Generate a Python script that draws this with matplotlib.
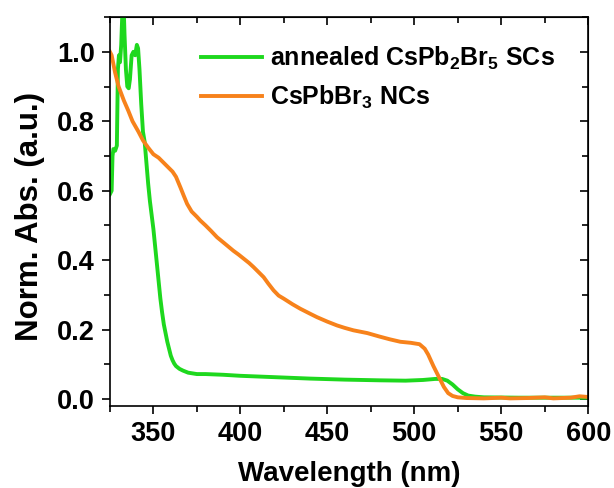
import matplotlib
matplotlib.use("Agg")
import matplotlib.pyplot as plt
from matplotlib.ticker import MultipleLocator

plt.rcParams['font.family'] = ['Liberation Sans', 'DejaVu Sans']
plt.rcParams['font.weight'] = 'bold'
plt.rcParams['mathtext.default'] = 'regular'

# annealed CsPb2Br5 SCs
green_wl = [325, 326, 326.5, 327, 328, 329, 329.6, 330.2, 330.8, 331.5, 332.2, 332.8,
            333.4, 334.2, 335, 335.8, 336.5, 337.5, 338.5, 339.5, 340.5, 341.2, 342,
            343, 344, 345, 346, 347, 348, 349, 350, 351, 352, 353, 354, 355, 356, 357,
            358, 359, 360, 361, 362, 363, 365, 367, 370, 375, 380, 390, 400, 420, 440,
            460, 480, 495, 505, 512, 516, 519, 522, 525, 528, 531, 535, 540, 560, 580, 600]
green_abs = [0.59, 0.60, 0.70, 0.72, 0.715, 0.73, 0.95, 0.99, 0.97, 1.02, 1.12, 1.15,
             1.05, 0.95, 0.90, 0.895, 0.92, 0.99, 1.00, 0.99, 1.02, 1.01, 0.95,
             0.85, 0.77, 0.74, 0.68, 0.62, 0.57, 0.53, 0.49, 0.44, 0.39, 0.34, 0.29, 0.25, 0.215, 0.19,
             0.165, 0.145, 0.125, 0.112, 0.102, 0.095, 0.087, 0.082, 0.076, 0.072, 0.072, 0.070, 0.067, 0.063, 0.059,
             0.056, 0.054, 0.053, 0.055, 0.058, 0.058, 0.053, 0.042, 0.028, 0.017, 0.010, 0.007, 0.005, 0.004, 0.004, 0.004]

# CsPbBr3 NCs
orange_wl = [325, 326, 328, 330, 333, 335.6, 338, 341.4, 344, 347, 350, 353, 356, 359, 361,
             363, 365.5, 367.5, 369.4, 372, 375, 377, 380, 383, 386.6, 390, 392.4, 396, 399,
             402, 405, 407.6, 410, 413.4, 416, 419.1, 422, 425, 430, 434.5, 440, 444, 450,
             455.6, 460, 465, 473, 480, 486, 492, 498, 503, 506, 508, 511, 513, 515, 517,
             519.5, 522, 525, 530, 540, 550, 555, 565, 575, 580, 590, 595, 600]
orange_abs = [1.00, 0.99, 0.94, 0.90, 0.86, 0.83, 0.80, 0.77, 0.745, 0.724, 0.705, 0.695, 0.68, 0.665, 0.655,
              0.64, 0.61, 0.585, 0.562, 0.54, 0.525, 0.514, 0.50, 0.485, 0.466, 0.452, 0.442, 0.427, 0.416,
              0.404, 0.392, 0.38, 0.368, 0.351, 0.333, 0.313, 0.298, 0.289, 0.273, 0.26, 0.246, 0.236, 0.223,
              0.212, 0.205, 0.198, 0.19, 0.18, 0.172, 0.165, 0.162, 0.158, 0.145, 0.128, 0.095, 0.075, 0.055, 0.035,
              0.017, 0.009, 0.005, 0.003, 0.002, 0.004, 0.002, 0.003, 0.005, 0.002, 0.004, 0.008, 0.006]

fig = plt.figure(figsize=(6.14, 4.88), dpi=100)
ax = fig.add_axes([0.179, 0.168, 0.779, 0.797])

ax.plot(green_wl, green_abs, color='#1ed81e', lw=2.8, label='annealed CsPb$_2$Br$_5$ SCs')
ax.plot(orange_wl, orange_abs, color='#f7821b', lw=2.8, label='CsPbBr$_3$ NCs')

ax.set_xlim(325, 600)
ax.set_ylim(-0.02, 1.1)
ax.xaxis.set_major_locator(MultipleLocator(50))
ax.xaxis.set_minor_locator(MultipleLocator(25))
ax.yaxis.set_major_locator(MultipleLocator(0.2))
ax.yaxis.set_minor_locator(MultipleLocator(0.1))
ax.tick_params(which='both', direction='out', width=1.2, labelsize=19.5, pad=5)
ax.tick_params(which='major', length=6)
ax.tick_params(which='minor', length=4)

# mirrored ticks on top and right, pointing in
top = ax.secondary_xaxis('top')
top.xaxis.set_major_locator(MultipleLocator(50))
top.xaxis.set_minor_locator(MultipleLocator(25))
top.tick_params(which='both', direction='in', width=1.2, labeltop=False)
top.tick_params(which='major', length=6)
top.tick_params(which='minor', length=4)
right = ax.secondary_yaxis('right')
right.yaxis.set_major_locator(MultipleLocator(0.2))
right.yaxis.set_minor_locator(MultipleLocator(0.1))
right.tick_params(which='both', direction='in', width=1.2, labelright=False)
right.tick_params(which='major', length=6)
right.tick_params(which='minor', length=4)

for s in ax.spines.values():
    s.set_linewidth(1.2)

ax.set_xlabel('Wavelength (nm)', fontsize=20, fontweight='bold', labelpad=10)
ax.set_ylabel('Norm. Abs. (a.u.)', fontsize=22.5, fontweight='bold')
ax.yaxis.set_label_coords(-0.135, 0.488)

ax.legend(loc='upper right', frameon=False, fontsize=18, handlelength=2.45,
          handletextpad=0.3, bbox_to_anchor=(0.93, 0.93), labelspacing=0.5,
          borderaxespad=0, borderpad=0)

fig.savefig('out.png', dpi=100)
